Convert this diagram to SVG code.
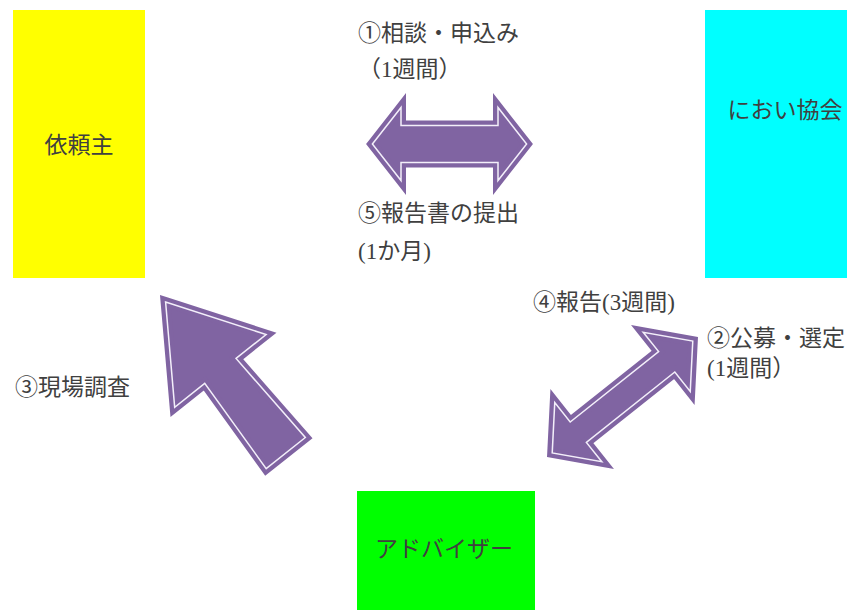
<svg xmlns="http://www.w3.org/2000/svg" xmlns:xlink="http://www.w3.org/1999/xlink" width="857" height="610" viewBox="0 0 857 610">
<style>
.txt { font-family: "Liberation Serif", "Noto Sans CJK JP", serif; font-size: 23px; fill: #404040; }
.ntxt { font-family: "Noto Sans CJK JP", "Liberation Sans", sans-serif; font-size: 23px; fill: #404040; text-anchor: middle; }
.ao { fill: #8064a2; stroke: #8064a2; stroke-width: 10; stroke-linejoin: miter; stroke-miterlimit: 10; }
.ai { fill: none; stroke: #f3effa; stroke-width: 1.5; stroke-linejoin: miter; stroke-miterlimit: 10; }
</style>
<defs>
<polygon id="dbl-h" points="-77.1,0 -48.5,-36.5 -48.5,-18.5 48.5,-18.5 48.5,-36.5 77.1,0 48.5,36.5 48.5,18.5 -48.5,18.5 -48.5,36.5"/>
<polygon id="dbl-d" points="-89.8,0 -56.5,-37.8 -56.5,-13 56.5,-13 56.5,-37.8 89.8,0 56.5,37.8 56.5,13 -56.5,13 -56.5,37.8"/>
<polygon id="single" points="9,0 97,-58.4 97,-20 202,-25 202,25 97,20 97,58.4"/>
</defs>
<rect width="857" height="610" fill="#ffffff"/>
<g id="client">
<rect x="13" y="10" width="132" height="268" fill="#ffff00"/>
<text class="ntxt" x="79" y="153">依頼主</text>
</g>
<g id="association">
<rect x="705" y="10" width="142" height="268" fill="#00ffff"/>
<text class="ntxt" x="785" y="118">におい協会</text>
</g>
<g id="advisor">
<rect x="357" y="491" width="178" height="119" fill="#00ff00"/>
<text class="ntxt" x="444" y="557">アドバイザー</text>
</g>
<g id="connectors">
<g transform="translate(449.5,144)">
<use xlink:href="#dbl-h" class="ao"/>
<use xlink:href="#dbl-h" class="ai"/>
</g>
<g transform="translate(622.5,397) rotate(-38.5)">
<use xlink:href="#dbl-d" class="ao"/>
<use xlink:href="#dbl-d" class="ai"/>
</g>
<g transform="translate(160,295) rotate(51.5)">
<use xlink:href="#single" class="ao"/>
<use xlink:href="#single" class="ai"/>
</g>
</g>
<g id="labels">
<text class="txt" x="358" y="41">①相談・申込み</text>
<text class="txt" x="358" y="77">（1週間）</text>
<text class="txt" x="358" y="221">⑤報告書の提出</text>
<text class="txt" x="358" y="259">(1か月)</text>
<text class="txt" x="533" y="310">④報告(3週間)</text>
<text class="txt" x="707" y="346">②公募・選定</text>
<text class="txt" x="707" y="376">(1週間）</text>
<text class="txt" x="15" y="395">③現場調査</text>
</g>
</svg>
